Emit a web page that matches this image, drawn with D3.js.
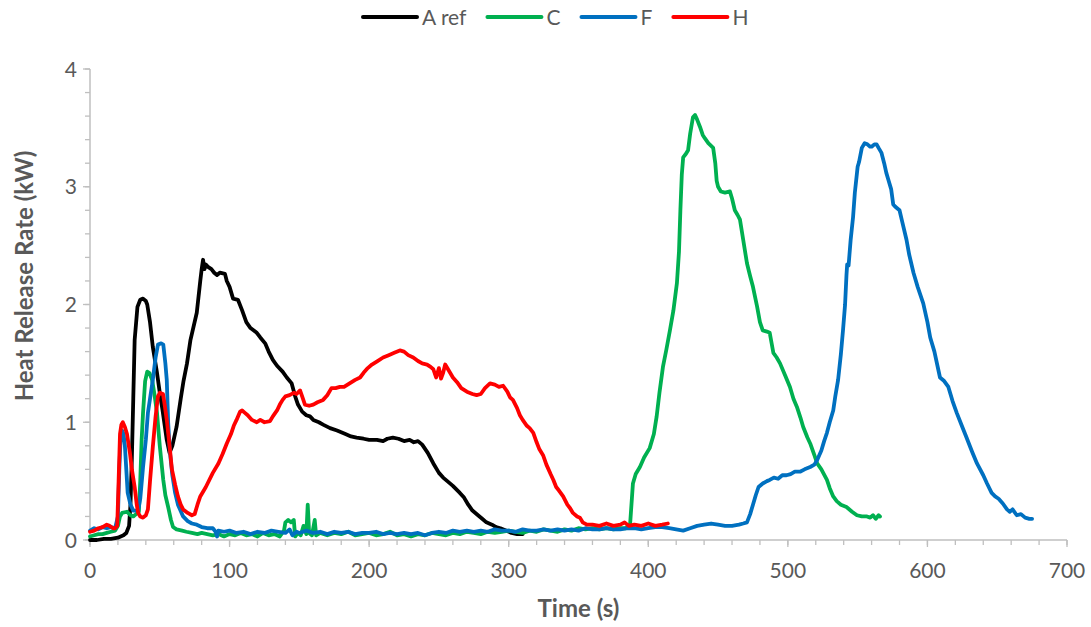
<!DOCTYPE html>
<html>
<head>
<meta charset="utf-8">
<script src="https://cdn.jsdelivr.net/npm/d3@7"></script>
<style>
  html, body { margin: 0; padding: 0; background: #fff; }
  svg { display: block; }
  text { font-family: Lato, "Open Sans", sans-serif; fill: #595959; }
</style>
</head>
<body>
<svg id="chart" width="1091" height="627"></svg>
<script>
// ---------- DATA ----------
const seriesNames = ["A ref", "C", "F", "H"];
const seriesColors = ["#000000", "#00B050", "#0070C0", "#FF0000"];
const xTicks = [0, 100, 200, 300, 400, 500, 600, 700];
const yTicks = [0, 1, 2, 3, 4];
const xTitle = "Time (s)";
const yTitle = "Heat Release Rate (kW)";

// [time (s), HRR (kW)]
const aRef = [[0,0],[5,0.0],[10,0.01],[15,0.01],[20,0.02],[24,0.04],[26,0.06],[28,0.12],[29,0.3],[30,0.7],[31,1.2],[32,1.7],[34,1.98],[36,2.04],[38,2.05],[40,2.03],[41,2.0],[43,1.85],[45,1.64],[48,1.42],[50,1.25],[52,1.1],[55,0.85],[57,0.74],[59,0.8],[62,0.96],[65,1.2],[67,1.35],[69.5,1.5],[72,1.7],[76.5,1.93],[79,2.2],[80,2.3],[81,2.38],[82,2.3],[83,2.34],[84.5,2.32],[87,2.3],[89,2.27],[91,2.25],[93,2.27],[96.7,2.26],[98,2.2],[100,2.15],[102.5,2.05],[106,2.04],[109,1.95],[112,1.85],[115,1.8],[119.5,1.76],[122,1.72],[125.5,1.67],[128,1.6],[131,1.53],[134,1.48],[138,1.43],[141,1.38],[144.5,1.33],[147,1.22],[149,1.15],[152,1.09],[155,1.06],[157.6,1.05],[160,1.02],[164,1.0],[167,0.98],[172,0.95],[177,0.93],[183,0.9],[187,0.88],[191,0.87],[196,0.86],[200,0.85],[205.6,0.85],[210,0.84],[213,0.86],[217,0.87],[221,0.86],[225,0.84],[229,0.85],[232,0.83],[235,0.84],[238,0.81],[242,0.74],[246,0.65],[250,0.57],[253,0.53],[256,0.5],[260,0.46],[265,0.4],[268,0.36],[271,0.3],[274,0.25],[278,0.21],[281,0.18],[284,0.15],[288,0.13],[291,0.11],[294,0.1],[298,0.08],[302,0.06],[306,0.05],[310,0.05]];

const seriesC = [[0,0.03],[3,0.04],[6,0.05],[9,0.05],[12,0.06],[15,0.07],[18,0.08],[20,0.12],[21.5,0.2],[23,0.23],[26.5,0.24],[29,0.21],[31,0.2],[33,0.22],[35,0.24],[36,0.5],[37,0.85],[38,1.08],[39.5,1.35],[41,1.43],[42.5,1.42],[44.5,1.36],[46,1.25],[48,1.08],[50,0.8],[52.5,0.51],[54,0.38],[56,0.28],[58,0.17],[59.5,0.11],[62,0.09],[66,0.08],[69,0.07],[73,0.06],[77,0.05],[80,0.06],[84,0.05],[88,0.04],[92,0.05],[96,0.03],[100,0.05],[104,0.04],[108,0.06],[112,0.04],[116,0.05],[120,0.03],[124,0.06],[128,0.04],[132,0.05],[136,0.03],[139,0.08],[140,0.15],[142,0.17],[144,0.15],[146,0.17],[147,0.03],[149,0.06],[151,0.04],[153,0.12],[155,0.05],[156,0.3],[157,0.06],[159,0.04],[161,0.17],[162,0.04],[165,0.06],[170,0.04],[175,0.06],[180,0.05],[185,0.07],[190,0.04],[195,0.05],[200,0.06],[205,0.04],[210,0.05],[215,0.07],[220,0.04],[225,0.05],[230,0.03],[235,0.05],[240,0.04],[245,0.06],[250,0.05],[255,0.04],[260,0.06],[265,0.05],[270,0.07],[275,0.06],[280,0.05],[285,0.07],[290,0.06],[295,0.07],[300,0.08],[305,0.07],[310,0.06],[315,0.08],[320,0.07],[325,0.09],[330,0.08],[335,0.07],[340,0.09],[345,0.08],[350,0.1],[355,0.09],[360,0.1],[365,0.09],[370,0.1],[375,0.09],[380,0.1],[384,0.1],[387,0.14],[389,0.48],[391,0.56],[394,0.62],[397,0.7],[401,0.78],[404,0.9],[406,1.05],[408,1.25],[410.5,1.47],[413,1.62],[415.5,1.78],[418,1.95],[420.5,2.18],[422,2.45],[423,2.8],[424,3.1],[425,3.25],[427,3.28],[428.5,3.31],[430,3.45],[432,3.59],[433.5,3.61],[435,3.57],[437,3.51],[439,3.44],[440.6,3.41],[443,3.37],[446.5,3.33],[448,3.2],[449,3.05],[450,3.0],[452,2.96],[455,2.95],[458.5,2.96],[460,2.9],[462,2.8],[464,2.76],[465.7,2.72],[468,2.55],[470.7,2.35],[473,2.24],[475,2.15],[478,1.98],[480,1.85],[482,1.78],[485,1.77],[487,1.76],[489.6,1.59],[492,1.55],[494.4,1.5],[498,1.4],[501.5,1.3],[504,1.2],[506.5,1.13],[509,1.04],[511,0.96],[514,0.87],[516,0.82],[519,0.72],[521,0.65],[524,0.6],[528,0.51],[530,0.44],[532.5,0.37],[535,0.33],[538,0.3],[542,0.28],[546,0.24],[549.5,0.21],[553,0.2],[556.7,0.2],[559,0.19],[561,0.21],[563,0.18],[565,0.21],[566,0.2]];

const seriesF = [[0,0.08],[3,0.1],[6,0.09],[9,0.11],[12,0.1],[15,0.11],[18,0.1],[20,0.2],[21,0.6],[22,0.88],[23,0.93],[24,0.9],[25,0.8],[26,0.6],[27,0.4],[29,0.3],[31,0.25],[34.5,0.25],[36,0.35],[38,0.62],[40,0.85],[41.5,1.08],[43,1.2],[45,1.36],[47,1.55],[48.7,1.66],[51,1.67],[52.5,1.66],[54,1.5],[55,1.36],[56,1.0],[57.3,0.74],[59,0.55],[61,0.4],[63,0.3],[66.7,0.2],[70,0.16],[73,0.14],[76.5,0.13],[80,0.11],[84,0.1],[88,0.1],[90,0.07],[91,0.03],[92,0.08],[96,0.07],[100,0.08],[105,0.06],[110,0.07],[115,0.05],[120,0.07],[125,0.06],[130,0.08],[135,0.07],[140,0.06],[143,0.09],[145,0.04],[148,0.07],[150,0.06],[155,0.08],[160,0.06],[165,0.07],[170,0.05],[175,0.07],[180,0.06],[185,0.07],[190,0.05],[195,0.06],[200,0.06],[205,0.07],[210,0.05],[215,0.06],[220,0.05],[225,0.06],[230,0.05],[235,0.06],[240,0.04],[245,0.06],[250,0.07],[255,0.06],[260,0.08],[265,0.07],[270,0.08],[275,0.07],[280,0.08],[285,0.07],[290,0.09],[295,0.08],[300,0.08],[305,0.07],[310,0.09],[315,0.08],[320,0.08],[325,0.09],[330,0.08],[335,0.09],[340,0.08],[345,0.09],[350,0.08],[355,0.1],[360,0.09],[365,0.09],[370,0.1],[375,0.09],[380,0.09],[385,0.1],[390,0.1],[395,0.09],[400,0.1],[405,0.11],[410,0.11],[415,0.1],[420,0.09],[425,0.08],[430,0.1],[435,0.12],[440,0.13],[445,0.14],[450,0.13],[455,0.12],[460,0.12],[465,0.13],[468,0.14],[470.7,0.15],[473,0.22],[475,0.3],[477,0.38],[479,0.45],[482,0.48],[485,0.5],[487,0.51],[490,0.53],[493,0.52],[496,0.55],[499,0.55],[502,0.56],[505,0.58],[508.7,0.58],[512,0.6],[516,0.62],[519,0.64],[521,0.68],[524,0.76],[526,0.84],[528,0.91],[530,1.0],[532.5,1.1],[534,1.22],[536,1.36],[538,1.58],[539.5,1.78],[541,2.0],[542,2.25],[542.5,2.34],[543.5,2.33],[545,2.55],[546.7,2.74],[548,2.95],[550,3.17],[551,3.21],[553,3.33],[555,3.37],[557,3.36],[559,3.34],[560,3.34],[562,3.36],[563.6,3.36],[565,3.33],[567,3.29],[569,3.2],[570.5,3.12],[572,3.06],[574,2.98],[575.5,2.85],[577,2.83],[580,2.8],[582,2.7],[585,2.55],[587,2.42],[590,2.27],[593,2.15],[597,2.01],[600,1.85],[602,1.72],[605,1.6],[609,1.38],[612,1.35],[615,1.3],[618,1.18],[621,1.08],[625,0.96],[628,0.87],[632,0.75],[635.5,0.65],[640,0.55],[642.7,0.48],[646,0.4],[648.5,0.37],[651,0.35],[654,0.31],[657,0.26],[659,0.24],[661,0.26],[664,0.21],[667,0.22],[670,0.19],[673,0.18],[675,0.18]];

const seriesH = [[0,0.07],[3,0.08],[6,0.1],[9,0.11],[12,0.13],[14,0.12],[16.5,0.1],[18,0.1],[19.5,0.12],[20.5,0.5],[21.5,0.9],[22.5,0.98],[23.5,1.0],[25,0.96],[26.5,0.9],[28.6,0.74],[30,0.6],[32,0.45],[33.5,0.3],[34.5,0.23],[36,0.2],[38,0.19],[40,0.21],[41.5,0.26],[43,0.5],[45,0.79],[47,1.05],[48.7,1.22],[50,1.25],[52.3,1.24],[53.5,1.15],[55,1.02],[57,0.8],[58.7,0.6],[61,0.47],[63,0.37],[65,0.3],[66.7,0.26],[70,0.23],[73,0.21],[75,0.22],[77,0.3],[79,0.37],[83,0.45],[88,0.57],[92,0.65],[95,0.73],[98,0.82],[101,0.9],[103,0.97],[105,1.02],[107.5,1.09],[109,1.1],[111,1.08],[113,1.06],[116,1.02],[119.5,1.0],[122,1.02],[125,1.0],[129,1.01],[131,1.05],[134,1.1],[136,1.15],[138,1.19],[140,1.22],[143,1.23],[146,1.25],[148,1.24],[150.5,1.27],[152,1.22],[154,1.15],[157,1.14],[160,1.15],[163,1.17],[167,1.19],[170,1.23],[173,1.29],[176,1.29],[179,1.3],[182,1.3],[186,1.33],[190,1.36],[193.5,1.38],[196,1.42],[199,1.46],[202,1.49],[206,1.52],[210,1.55],[214,1.57],[218,1.59],[222,1.61],[225,1.6],[228,1.57],[231.6,1.55],[235,1.52],[238,1.5],[241.5,1.49],[244,1.47],[246,1.45],[248,1.38],[250,1.46],[251.5,1.37],[253,1.42],[254.5,1.49],[256,1.46],[258,1.42],[260,1.38],[263,1.34],[266,1.29],[270,1.26],[274,1.24],[277,1.23],[280,1.24],[283,1.29],[286.6,1.33],[290,1.32],[293,1.3],[296,1.31],[299,1.26],[301,1.21],[303,1.19],[306,1.12],[308,1.06],[310,1.02],[313,0.97],[315,0.95],[317.6,0.91],[320,0.83],[322,0.77],[324.6,0.72],[327,0.64],[330,0.56],[332,0.51],[334,0.45],[336,0.42],[339,0.37],[342,0.3],[344,0.27],[346,0.23],[349,0.2],[351,0.19],[353,0.15],[356,0.13],[360,0.13],[365,0.12],[370,0.14],[375,0.12],[380,0.13],[383,0.15],[386,0.12],[390,0.13],[395,0.12],[400,0.14],[405,0.12],[410,0.13],[414,0.14]];

const allSeries = [aRef, seriesC, seriesF, seriesH];

// ---------- CHART ----------
const svg = d3.select("#chart");
const plot = { left: 90, right: 1067, top: 69, bottom: 540 };
const axisColor = "#BFBFBF";

const x = d3.scaleLinear().domain([0, 700]).range([plot.left, plot.right]);
const y = d3.scaleLinear().domain([0, 4]).range([plot.bottom, plot.top]);

const xMinor = d3.range(0, 701, 20);
const yMinor = d3.range(0, 4.001, 0.2);

// X axis
const gx = svg.append("g").attr("transform", `translate(0,${plot.bottom})`);
gx.append("line").attr("x1", plot.left).attr("x2", plot.right).attr("stroke", axisColor).attr("stroke-width", 1.5);
gx.selectAll("line.minor").data(xMinor).join("line").attr("class", "minor")
  .attr("x1", d => x(d)).attr("x2", d => x(d)).attr("y1", 0).attr("y2", 5)
  .attr("stroke", axisColor).attr("stroke-width", 1.3);
gx.selectAll("line.major").data(xTicks).join("line").attr("class", "major")
  .attr("x1", d => x(d)).attr("x2", d => x(d)).attr("y1", 0).attr("y2", 7)
  .attr("stroke", axisColor).attr("stroke-width", 1.3);
gx.selectAll("text").data(xTicks).join("text")
  .attr("x", d => x(d)).attr("y", 38).attr("text-anchor", "middle")
  .style("font-size", "21px").text(d => d);

// Y axis
const gy = svg.append("g").attr("transform", `translate(${plot.left},0)`);
gy.append("line").attr("y1", plot.top).attr("y2", plot.bottom).attr("stroke", axisColor).attr("stroke-width", 1.5);
gy.selectAll("line.minor").data(yMinor).join("line").attr("class", "minor")
  .attr("y1", d => y(d)).attr("y2", d => y(d)).attr("x1", 0).attr("x2", -5)
  .attr("stroke", axisColor).attr("stroke-width", 1.3);
gy.selectAll("line.major").data(yTicks).join("line").attr("class", "major")
  .attr("y1", d => y(d)).attr("y2", d => y(d)).attr("x1", 0).attr("x2", -7)
  .attr("stroke", axisColor).attr("stroke-width", 1.3);
gy.selectAll("text").data(yTicks).join("text")
  .attr("x", -13).attr("y", d => y(d)).attr("dy", "0.36em").attr("text-anchor", "end")
  .style("font-size", "21px").text(d => d);

// Axis titles
svg.append("text").attr("x", (plot.left + plot.right) / 2).attr("y", 617)
  .attr("text-anchor", "middle").style("font-size", "24px").style("font-weight", "bold").text(xTitle);
svg.append("text").attr("transform", `translate(24,276) rotate(-90)`)
  .attr("text-anchor", "middle").attr("dy", "0.36em")
  .style("font-size", "24px").style("font-weight", "bold").text(yTitle);

// Lines
const line = d3.line().x(d => x(d[0])).y(d => y(d[1])).curve(d3.curveLinear);
svg.append("g").selectAll("path").data(allSeries).join("path")
  .attr("d", line).attr("fill", "none")
  .attr("stroke", (d, i) => seriesColors[i]).attr("stroke-width", 3.8)
  .attr("stroke-linejoin", "round").attr("stroke-linecap", "round");

// Legend
const legend = svg.append("g").attr("transform", "translate(0,17)");
let lx = 363;
seriesNames.forEach((name, i) => {
  const g = legend.append("g").attr("transform", `translate(${lx},0)`);
  g.append("line").attr("x1", 0).attr("x2", 54).attr("y1", 0).attr("y2", 0)
    .attr("stroke", seriesColors[i]).attr("stroke-width", 4).attr("stroke-linecap", "round");
  const t = g.append("text").attr("x", 59).attr("y", 0).attr("dy", "0.36em")
    .style("font-size", "21px").text(name);
  lx += 59 + t.node().getComputedTextLength() + 21;
});
</script>
</body>
</html>
